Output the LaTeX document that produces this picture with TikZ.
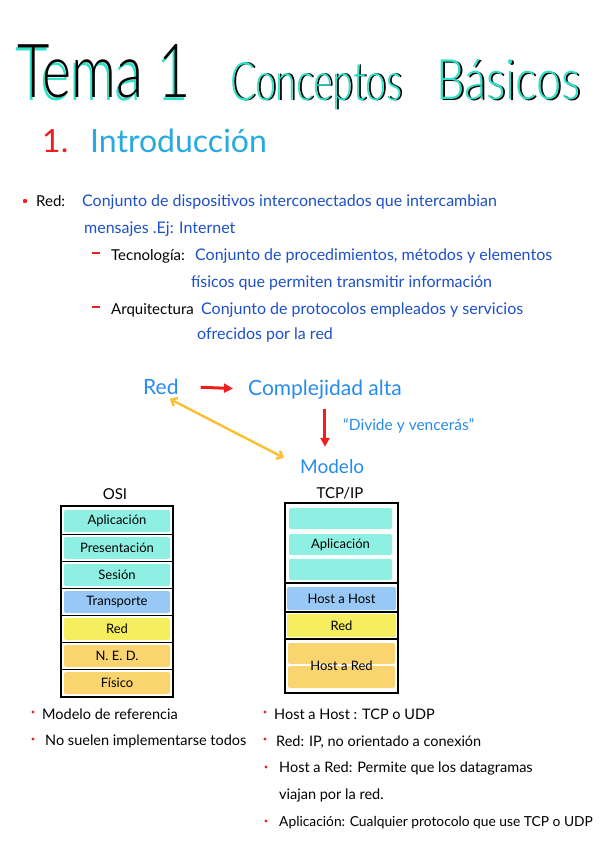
\documentclass[tikz,border=0pt]{standalone}
\usepackage{fontspec}
\usepackage{graphicx}
\setmainfont{Lato}
\newfontfamily\titlefont{Lato Light}
\usetikzlibrary{arrows.meta}

\definecolor{titlecyan}{RGB}{45,225,200}
\definecolor{introblue}{RGB}{40,170,225}
\definecolor{defblue}{RGB}{30,80,200}
\definecolor{flowblue}{RGB}{40,140,235}
\definecolor{markred}{RGB}{240,30,30}
\definecolor{arrowyellow}{RGB}{250,192,50}
\definecolor{aqua}{RGB}{142,240,226}
\definecolor{hostblue}{RGB}{152,200,245}
\definecolor{netyellow}{RGB}{245,238,95}
\definecolor{linkorange}{RGB}{250,212,110}

\newcommand\inkshadow[4]{\rlap{\kern#2\raisebox{#3}{\color{#1}#4}}#4}

\tikzset{
  txt/.style={anchor=base west, inner sep=0pt},
  titletext/.style={txt, font=\titlefont},
  bodytext/.style={txt, font=\fontsize{15}{18}\selectfont},
  deftext/.style={txt, text=defblue, font=\fontsize{16}{19}\selectfont},
  notetext/.style={txt, font=\fontsize{14.5}{17}\selectfont},
  flowtext/.style={txt, text=flowblue, font=\fontsize{21}{24}\selectfont},
  layer/.style={rounded corners=2pt, inner sep=0pt, minimum height=22pt, font=\fontsize{13}{15}\selectfont},
  layersep/.style={line width=1.6pt},
  stack/.style={line width=2.4pt},
  redarrow/.style={-{Triangle[length=9pt,width=9pt]}, line width=3pt, markred},
  yellowarrow/.style={{Straight Barb[length=5pt,width=9pt]}-{Straight Barb[length=5pt,width=9pt]}, line width=2.4pt, arrowyellow},
  reddash/.style={markred, line width=2pt},
}

\begin{document}
\begin{tikzpicture}[x=1pt,y=-1pt]
  \fill[white] (0,0) rectangle (600,848);
  \useasboundingbox (0,0) rectangle (600,848);

  \node[titletext] (tema) at (17,98) {\inkshadow{titlecyan}{-2pt}{-2pt}{\resizebox{174pt}{53pt}{Tema 1}}};
  \node[titletext, text=titlecyan] (conceptos) at (230,100) {\inkshadow{black}{2pt}{-1pt}{\resizebox{172pt}{38pt}{Conceptos}}};
  \node[titletext, text=titlecyan] (basicos) at (436,100) {\inkshadow{black}{2pt}{-1pt}{\resizebox{144pt}{40pt}{Básicos}}};

  \node[txt, text=markred, font=\fontsize{32}{36}\selectfont] (num) at (42,152) {1.};
  \node[txt, text=introblue, font=\fontsize{32}{36}\selectfont] (intro) at (90,152) {Introducción};

  \fill[markred] (25,201) circle (2.2pt);
  \node[bodytext] (red) at (36,206) {Red:};
  \node[deftext] (reddef) at (82,206) {Conjunto de dispositivos interconectados que intercambian};
  \node[deftext] (reddef2) at (84,233) {mensajes .Ej: Internet};

  \draw[reddash] (92,253) -- (100,253);
  \node[bodytext] (tec) at (111,260) {Tecnología:};
  \node[deftext] (tecdef) at (195,260) {Conjunto de procedimientos, métodos y elementos};
  \node[deftext] (tecdef2) at (191,287) {físicos que permiten transmitir información};

  \draw[reddash] (92,307) -- (100,307);
  \node[bodytext] (arq) at (111,314) {Arquitectura};
  \node[deftext] (arqdef) at (201,314) {Conjunto de protocolos empleados y servicios};
  \node[deftext] (arqdef2) at (197,339) {ofrecidos por la red};

  \node[flowtext] (net) at (143,394) {Red};
  \node[flowtext] (complex) at (248,395) {Complejidad alta};
  \node[flowtext, font=\fontsize{19}{22}\selectfont] (model) at (300,473) {Modelo};
  \node[txt, text=flowblue, font=\fontsize{15.5}{18}\selectfont] (divide) at (343,430) {“Divide y vencerás”};

  \draw[redarrow, shorten <=22pt, shorten >=15pt] (net.east) -- (complex.west);
  \draw[redarrow, shorten <=10pt, shorten >=12pt] (complex.south) -- (complex.south |- model.north);
  \draw[yellowarrow, shorten <=10pt, shorten >=18pt] (net.south) -- (model.west);

  \node[inner sep=0pt, font=\fontsize{15}{18}\selectfont, anchor=base] (osi) at (115,499) {OSI};
  \draw[stack] (61,506) rectangle (173,697);
  \foreach \name/\col [count=\i from 0] in {Aplicación/aqua,Presentación/aqua,Sesión/aqua,Transporte/hostblue,Red/netyellow,N. E. D./linkorange,Físico/linkorange}
    \node[layer, fill=\col, minimum width=106pt] (osi\i) at (117,521+27*\i) {\name};
  \foreach \y in {534.5,561.5,588.5,615.5,642.5,669.5}
    \draw[layersep] (62,\y) -- (172,\y);

  \node[inner sep=0pt, font=\fontsize{15}{18}\selectfont, anchor=base] (tcpip) at (340,498) {TCP/IP};
  \draw[stack] (285,503) rectangle (398,693);
  \node[layer, fill=aqua, minimum width=103pt, minimum height=21pt] (app1) at (340.5,518.5) {};
  \node[layer, fill=aqua, minimum width=103pt, minimum height=21pt] (app2) at (340.5,544.5) {Aplicación};
  \node[layer, fill=aqua, minimum width=103pt, minimum height=21pt] (app3) at (340.5,569.5) {};
  \node[layer, fill=hostblue, minimum width=109pt, minimum height=23pt] (hosthost) at (341.5,598.5) {Host a Host};
  \node[layer, fill=netyellow, minimum width=109pt, minimum height=23pt] (tcpnet) at (341.5,625.5) {Red};
  \node[layer, fill=linkorange, minimum width=107pt, minimum height=21pt] (link1) at (341.5,653.5) {};
  \node[layer, fill=linkorange, minimum width=107pt, minimum height=22pt] (link2) at (341.5,677) {};
  \node[layer] (hostred) at (341.5,665.5) {Host a Red};
  \foreach \y in {583,612,639}
    \draw[layersep] (286,\y) -- (397,\y);

  \fill[markred] (33,712) circle (1.6pt);
  \node[notetext] (refmodel) at (42,719) {Modelo de referencia};
  \fill[markred] (33,739) circle (1.6pt);
  \node[notetext] (notall) at (45,745) {No suelen implementarse todos};

  \fill[markred] (265,712) circle (1.6pt);
  \node[notetext] (n1) at (274,719) {Host a Host : TCP o UDP};
  \fill[markred] (265,739) circle (1.6pt);
  \node[notetext] (n2) at (276,746) {Red: IP, no orientado a conexión};
  \fill[markred] (266,767) circle (1.6pt);
  \node[notetext] (n3) at (279,772) {Host a Red: Permite que los datagramas};
  \node[notetext] (n3b) at (279,799) {viajan por la red.};
  \fill[markred] (266,821) circle (1.6pt);
  \node[notetext, font=\fontsize{13.8}{17}\selectfont] (n4) at (279,826) {Aplicación: Cualquier protocolo que use TCP o UDP};
\end{tikzpicture}
\end{document}
